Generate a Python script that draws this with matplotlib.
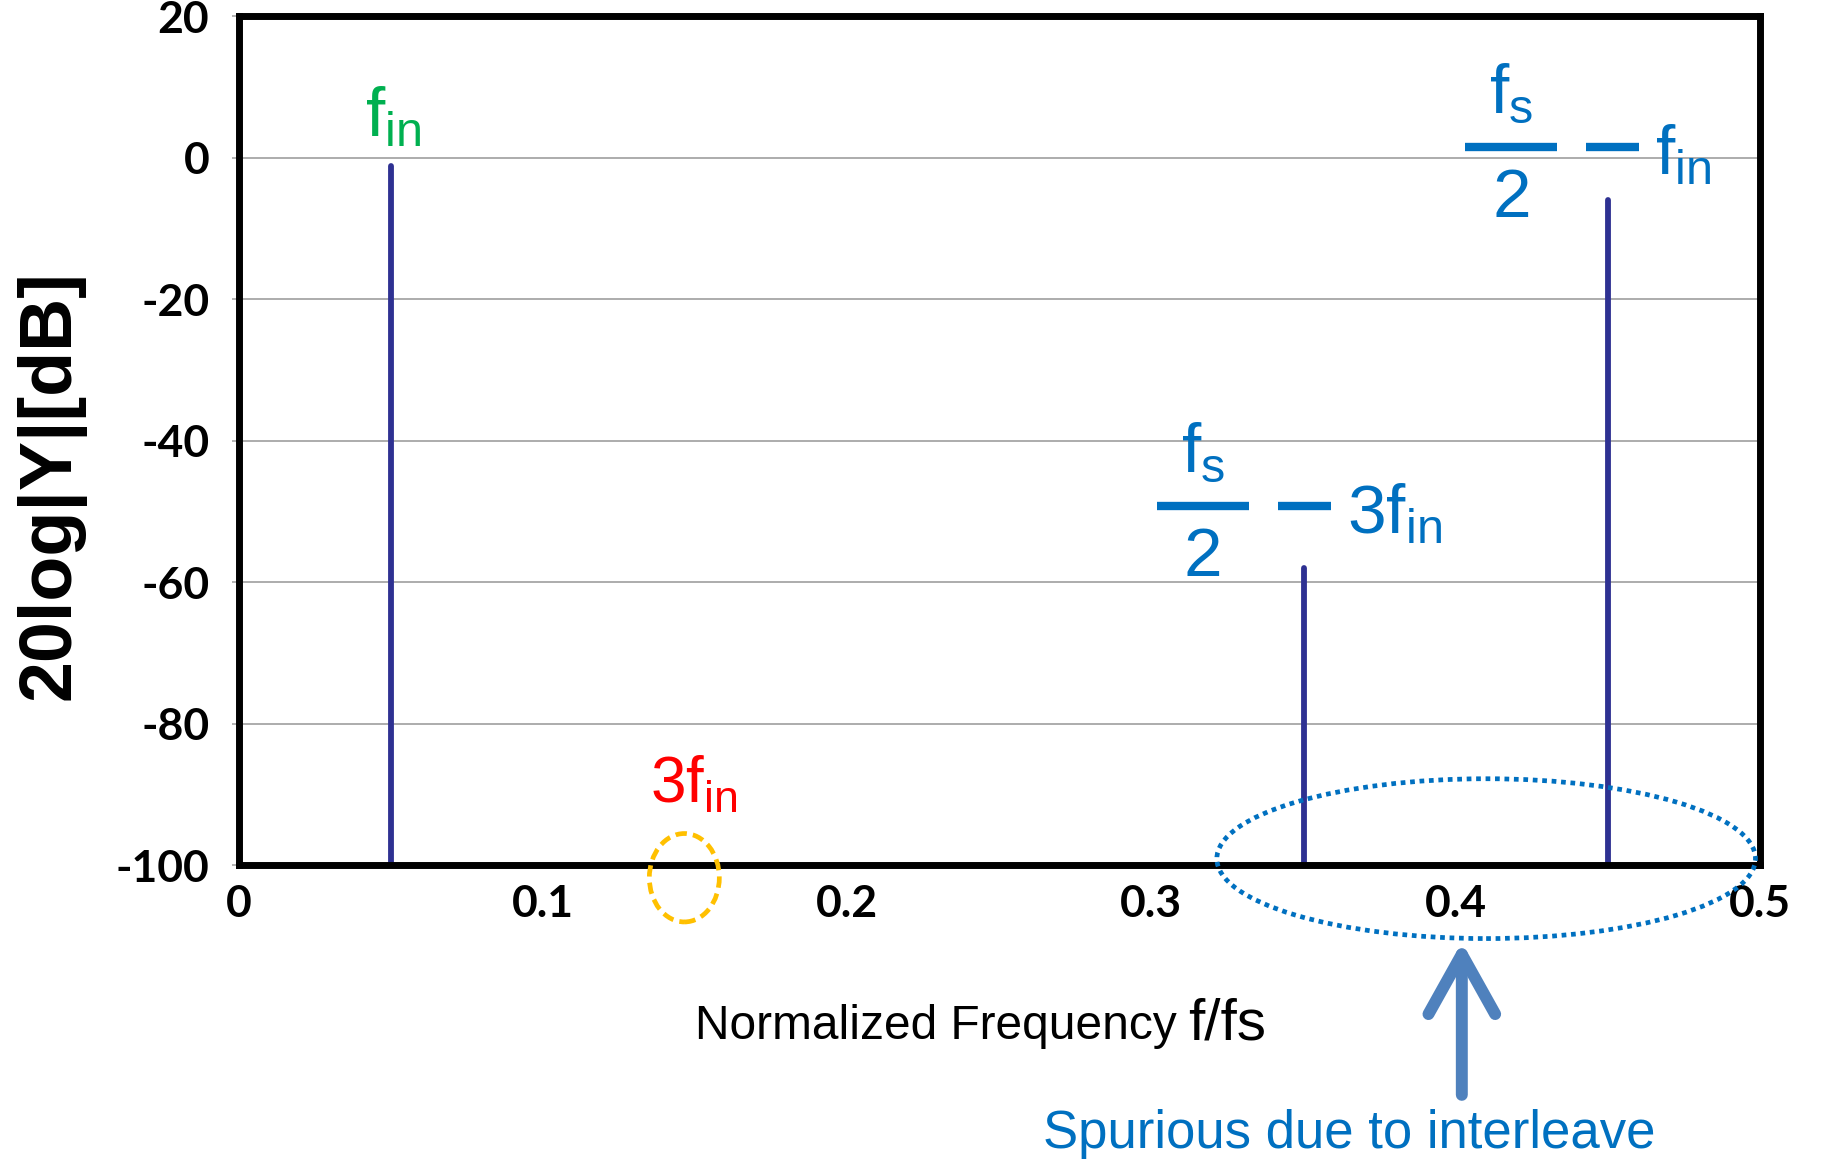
import matplotlib
matplotlib.use('Agg')
import matplotlib.pyplot as plt
from matplotlib.patches import Ellipse

# spectrum peaks (normalized freq, dB)
peak_freqs = [0.05, 0.35, 0.45]
peak_db = [-1.2, -58, -6]
floor_db = -100

x_ticks = [0, 0.1, 0.2, 0.3, 0.4, 0.5]
x_tick_labels = ['0', '0.1', '0.2', '0.3', '0.4', '0.5']
y_ticks = [20, 0, -20, -40, -60, -80, -100]
y_tick_labels = ['20', '0', '-20', '-40', '-60', '-80', '-100']

# fraction labels "fs/2 - ..." : bar centre (x, dB) and the tail text
frac_anchor_x = [0.4183, 0.317]
frac_anchor_y = [1.56, -49.2]
frac_tails = [r'$\mathrm{f_{in}}$', r'$\mathrm{3f_{in}}$']

SPIKE = '#2E3192'
GREEN = '#00B050'
RED = '#FF0000'
BLUE = '#0070C0'
ARROW = '#4F81BD'
YELLOW = '#FFC000'
GRID = '#A6A6A6'

plt.rcParams['font.family'] = 'Liberation Sans'
plt.rcParams['mathtext.fontset'] = 'custom'
plt.rcParams['mathtext.rm'] = 'Liberation Sans'
plt.rcParams['mathtext.it'] = 'Liberation Sans'
plt.rcParams['mathtext.bf'] = 'Liberation Sans:bold'


def fraction_label(ax, xc, yb, tail):
    # numerator, bar, denominator, minus sign and the trailing term
    half = 0.0151
    ax.text(xc, yb + 4.7, r'$\mathrm{f_s}$', color=BLUE, fontsize=50,
            ha='center', va='baseline')
    ax.plot([xc - half, xc + half], [yb, yb], color=BLUE, lw=6,
            solid_capstyle='butt', clip_on=False)
    ax.text(xc, yb - 10.0, '2', color=BLUE, fontsize=50,
            ha='center', va='baseline')
    ax.plot([xc + 0.0245, xc + 0.042], [yb, yb], color=BLUE, lw=6,
            solid_capstyle='butt', clip_on=False)
    ax.text(xc + 0.0472, yb - 3.85, tail, color=BLUE, fontsize=50,
            ha='left', va='baseline')


fig = plt.figure(figsize=(18.25, 11.6), dpi=100)
ax = fig.add_axes([0.1307, 0.2543, 0.8337, 0.7316])
ax.set_xlim(0, 0.5)
ax.set_ylim(-100, 20)

# spectrum lines
ax.vlines(peak_freqs, floor_db, peak_db, colors=SPIKE, lw=4.2,
          capstyle='round', zorder=3)

# axes styling
ax.set_yticks(y_ticks)
ax.set_yticklabels(y_tick_labels, fontfamily='Lato', fontweight='bold', fontsize=32)
ax.set_xticks(x_ticks)
ax.set_xticklabels(x_tick_labels, fontfamily='Lato', fontweight='bold', fontsize=32)
ax.tick_params(axis='y', length=5, width=1.2, color=GRID, pad=16)
ax.tick_params(axis='x', length=0, pad=14)
ax.yaxis.grid(True, color=GRID, lw=1.3)
ax.set_axisbelow(True)
for s in ax.spines.values():
    s.set_linewidth(5)
    s.set_color('black')
    s.set_capstyle('projecting')
    s.set_zorder(5)

# annotations
ax.text(0.0415, 3.0, r'$\mathrm{f_{in}}$', color=GREEN, fontsize=50,
        ha='left', va='baseline')
ax.text(0.1352, -91.2, r'$\mathrm{3f_{in}}$', color=RED, fontsize=46,
        ha='left', va='baseline', clip_on=False)
for xc, yb, tail in zip(frac_anchor_x, frac_anchor_y, frac_tails):
    fraction_label(ax, xc, yb, tail)

ax.add_patch(Ellipse((0.1465, -101.8), width=0.023, height=12.5, fill=False,
                     ec=YELLOW, lw=3.4, ls=(0, (2.4, 1.3)), clip_on=False, zorder=6))
ax.add_patch(Ellipse((0.41, -99.1), width=0.177, height=22.6, fill=False,
                     ec=BLUE, lw=3.4, ls=(0, (1, 1)), clip_on=False, zorder=6))

ax.annotate('', xy=(0.402, -110.9), xytext=(0.402, -132.5),
            arrowprops=dict(arrowstyle='->,head_length=0.43,head_width=0.24',
                            lw=8.6, color=ARROW, mutation_scale=100,
                            shrinkA=0, shrinkB=0, capstyle='round',
                            joinstyle='round'),
            annotation_clip=False)
ax.text(0.365, -138, 'Spurious due to interleave', color=BLUE, fontsize=38,
        ha='center', va='center', clip_on=False)

# axis titles
fig.text(0.381, 0.1043, 'Normalized Frequency', fontsize=34.5, ha='left', va='baseline')
fig.text(0.651, 0.1043, 'f/fs', fontsize=42, ha='left', va='baseline',
         family=['Liberation Sans Narrow', 'Liberation Sans'])
fig.text(0.0274, 0.582, '20log|Y|[dB]', rotation=90, fontsize=53,
         fontweight='bold', ha='center', va='center')

fig.savefig('out.png', dpi=100)
